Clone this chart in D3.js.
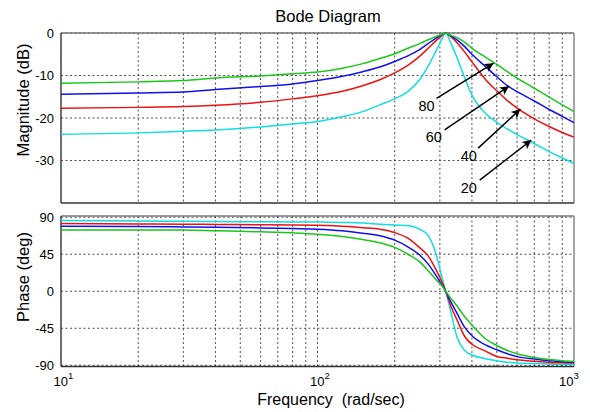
<!DOCTYPE html>
<html><head><meta charset="utf-8">
<script src="https://cdn.jsdelivr.net/npm/d3@7"></script>
<style>body{margin:0;background:#fff} text{font-family:"Liberation Sans",Arial,Helvetica,sans-serif;fill:#000}</style>
</head><body><svg id="c" width="590" height="412"></svg>
<script>
// ---- data ----
const freq = [10,20,30,40,60,80,100,125,150,175,200,225,250,270,290,305,316,330,350,375,400,450,500,550,600,700,800,900,1000];
const magGreen = [-11.8,-11.5,-11.2,-10.6,-10.1,-9.6,-9.2,-8.3,-7.2,-6.0,-4.9,-3.6,-2.5,-1.6,-0.8,-0.3,0,-0.5,-1.1,-2.2,-3.6,-5.6,-7.4,-9.1,-10.6,-13.0,-15.1,-16.9,-18.5];
const magBlue  = [-14.4,-14.1,-13.9,-13.3,-12.6,-12.0,-11.2,-10.2,-9.1,-8.0,-6.7,-5.4,-3.9,-2.5,-1.2,-0.4,0,-0.6,-1.6,-3.2,-5.0,-7.8,-10.3,-12.4,-13.8,-16.0,-18.0,-19.6,-21.1];
const magRed   = [-17.7,-17.5,-17.3,-17.0,-16.3,-15.5,-14.75,-13.7,-12.4,-11.0,-9.4,-7.6,-5.5,-3.6,-1.8,-0.6,0,-0.8,-2.3,-4.5,-6.8,-10.8,-13.6,-15.9,-17.7,-20.2,-22.0,-23.4,-24.5];
const magCyan  = [-23.8,-23.5,-23.1,-22.8,-22.1,-21.4,-20.8,-19.7,-18.5,-16.9,-15.5,-13.8,-11.0,-7.8,-4.2,-1.5,0,-2.2,-5.8,-10.6,-14.6,-18.8,-21.0,-22.6,-23.9,-26.0,-27.9,-29.4,-30.7];
const phGreen = [74.6,74.6,74.4,73.5,72.2,71,69.4,66.5,63,59,53.3,45,36,25,14,7,0,-8,-18,-31,-41,-57.5,-66,-72,-76,-80.5,-83,-84.5,-85.5];
const phBlue  = [79,78.7,78.2,77.8,77,76.2,75.5,73.5,70.5,67.4,62.1,54,44,33,19,8,0,-12,-27,-44,-54,-65,-71.2,-76,-79.5,-82.5,-84.5,-85.8,-86.6];
const phRed   = [82.3,81.8,81.5,81.2,80.8,80.5,80.3,79,77.3,75.5,71.4,64.5,53,43,26,12,0,-17,-35,-55,-64.5,-72.5,-79.3,-81.5,-83.3,-85.2,-86.6,-87,-87.3];
const phCyan  = [85.9,85.5,85,84.8,84.5,84.3,84.2,83.7,83,81.5,80.5,79.8,75.5,68,45,18,0,-23,-56,-72,-77.5,-82,-84.5,-86.3,-87.3,-88,-88.5,-88.8,-89];
const seriesColors = ["#19c819","#1010f0","#f01010","#10dede"];
const magTicks = [0,-10,-20,-30];
const phaseTicks = [90,45,0,-45,-90];
const freqTickExps = [1,2,3];
const arrowLabels = ["80","60","40","20"];
const arrowTipFreq = [486,558,618,682];
const arrowTipDb = [-7.1,-12.5,-17.9,-25.2];
const arrowTailFreq = [291,313,423,429];
const arrowTailDb = [-15.4,-22.8,-27.1,-34.6];
const labelFreq = [266,284,389,389];
const labelDb = [-17.2,-24.4,-28.9,-36.5];

// ---- layout ----
const svg = d3.select("#c");
const x = d3.scaleLog().domain([10,1000]).range([61,574]);
const yM = d3.scaleLinear().domain([-40,0]).range([203,33]);
const yP = d3.scaleLinear().domain([-91.5,91.5]).range([366.5,216]);
const gridTicks = [];
[10,100].forEach(d=>{for(let k=2;k<=10;k++){const v=d*k; if(v<1000) gridTicks.push(v);}});

function panel(y, ticks){
  const g = svg.append("g");
  const [y0,y1] = y.range();
  g.selectAll("line.v").data(gridTicks).join("line")
    .attr("x1",d=>x(d)).attr("x2",d=>x(d)).attr("y1",y1).attr("y2",y0)
    .attr("stroke","#222").attr("stroke-width",0.8).attr("stroke-dasharray","2,2.5");
  g.selectAll("line.h").data(ticks).join("line")
    .attr("x1",x.range()[0]).attr("x2",x.range()[1]).attr("y1",d=>y(d)).attr("y2",d=>y(d))
    .attr("stroke","#222").attr("stroke-width",0.8).attr("stroke-dasharray","2,2.5");
  g.append("line").attr("x1",61).attr("x2",574).attr("y1",y1).attr("y2",y1).attr("stroke","#777").attr("stroke-width",1.3);
  g.append("line").attr("x1",574).attr("x2",574).attr("y1",y1).attr("y2",y0).attr("stroke","#777").attr("stroke-width",1.3);
  g.append("line").attr("x1",61).attr("x2",61).attr("y1",y1).attr("y2",y0).attr("stroke","#333").attr("stroke-width",1.4);
  g.append("line").attr("x1",61).attr("x2",574).attr("y1",y0).attr("y2",y0).attr("stroke","#333").attr("stroke-width",1.4);
  g.selectAll("text.t").data(ticks).join("text")
    .attr("x",54).attr("y",d=>y(d)).attr("dy","0.36em").attr("text-anchor","end")
    .attr("font-size",13).text(d=>d);
}
panel(yM, magTicks);
panel(yP, phaseTicks);

// curves (cyan drawn first, green last)
const magArr = [magGreen,magBlue,magRed,magCyan];
const phArr = [phGreen,phBlue,phRed,phCyan];
[3,2,1,0].forEach(i=>{
  const lm = d3.line().x((d,j)=>x(freq[j])).y(d=>yM(d)).curve(d3.curveMonotoneX);
  svg.append("path").datum(magArr[i]).attr("d",lm).attr("fill","none").attr("stroke",seriesColors[i]).attr("stroke-width",1.5);
  const lp = d3.line().x((d,j)=>x(freq[j])).y(d=>yP(d)).curve(d3.curveMonotoneX);
  svg.append("path").datum(phArr[i]).attr("d",lp).attr("fill","none").attr("stroke",seriesColors[i]).attr("stroke-width",1.5);
});

// arrows
const defs = svg.append("defs");
defs.append("marker").attr("id","ah").attr("viewBox","0 0 10 10").attr("refX",10).attr("refY",5)
  .attr("markerWidth",14).attr("markerHeight",9).attr("markerUnits","userSpaceOnUse").attr("orient","auto")
  .append("path").attr("d","M0,0 L10,5 L0,10 L2.5,5 z").attr("fill","#000");
arrowLabels.forEach((lab,i)=>{
  svg.append("line").attr("x1",x(arrowTailFreq[i])).attr("y1",yM(arrowTailDb[i]))
    .attr("x2",x(arrowTipFreq[i])).attr("y2",yM(arrowTipDb[i]))
    .attr("stroke","#000").attr("stroke-width",1.5).attr("marker-end","url(#ah)");
  svg.append("text").attr("x",x(labelFreq[i])).attr("y",yM(labelDb[i])).attr("dy","0.36em")
    .attr("text-anchor","middle").attr("font-size",14.5).text(lab);
});

// x tick labels
freqTickExps.forEach(e=>{
  const tx = x(Math.pow(10,e)) - (e===3 ? 15 : 7.5);
  const t = svg.append("text").attr("x",tx).attr("y",386).attr("font-size",13);
  t.append("tspan").text("10");
  t.append("tspan").attr("dy",-7).attr("font-size",9.5).text(e);
});

// titles
svg.append("text").attr("x",328).attr("y",22).attr("text-anchor","middle").attr("font-size",16.5).text("Bode Diagram");
svg.append("text").attr("x",331).attr("y",405).attr("text-anchor","middle").attr("font-size",16).attr("xml:space","preserve").text("Frequency  (rad/sec)");
svg.append("text").attr("transform","translate(29,100) rotate(-90)").attr("text-anchor","middle").attr("font-size",16.5).text("Magnitude (dB)");
svg.append("text").attr("transform","translate(29,277) rotate(-90)").attr("text-anchor","middle").attr("font-size",16.5).text("Phase (deg)");
</script></body></html>
